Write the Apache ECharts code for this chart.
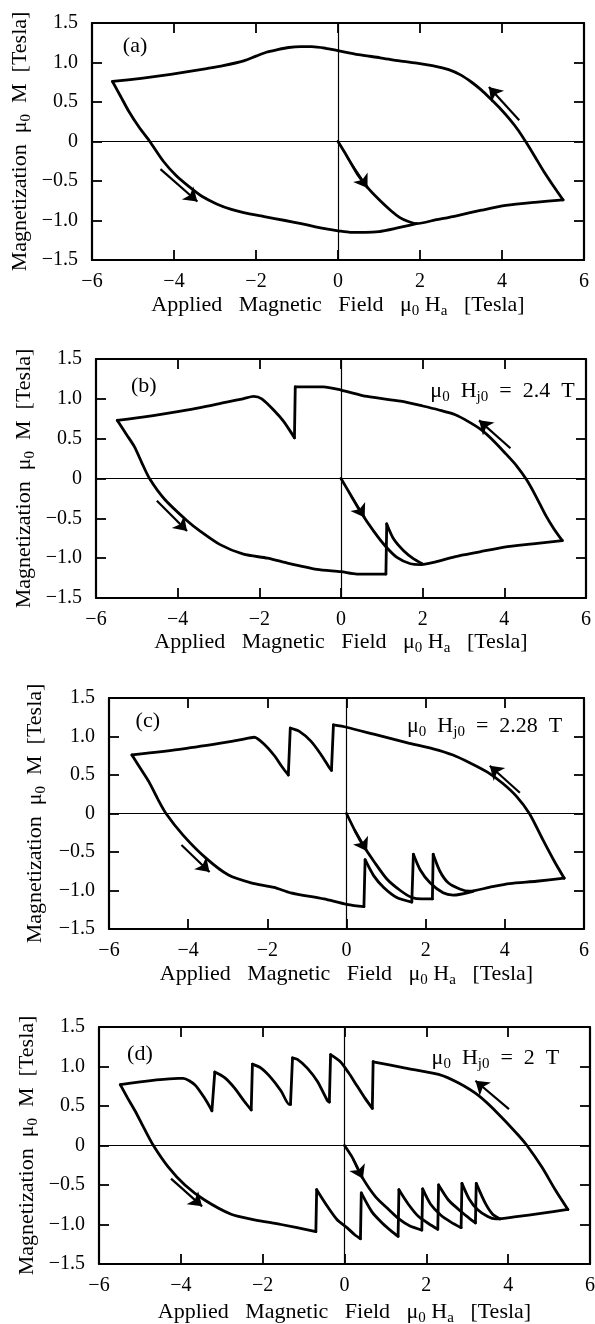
<!DOCTYPE html>
<html><head><meta charset="utf-8">
<script src="https://cdn.jsdelivr.net/npm/echarts/dist/echarts.min.js"></script>
<style>html,body{margin:0;padding:0;background:#fff}#c{width:595px;height:1324px}</style>
</head><body><div id="c"></div>
<script>
// ---------- tick labels ----------
const xTickValues = [-6, -4, -2, 0, 2, 4, 6];
const xTickLabels = ['\u22126', '\u22124', '\u22122', '0', '2', '4', '6'];
const yTickValues = [-1.5, -1.0, -0.5, 0, 0.5, 1.0, 1.5];
const yTickLabels = ['\u22121.5', '\u22121.0', '\u22120.5', '0', '0.5', '1.0', '1.5'];

// ---------- panel (a) ----------
const virginA = [[0,0],[0.2,-0.17],[0.47,-0.41],[0.75,-0.6],[1.03,-0.75],[1.3,-0.88],[1.5,-0.96],[1.7,-1.01],[1.91,-1.04]];
const loopA = [[1.91,-1.04],[2.4,-0.99],[2.89,-0.94],[3.5,-0.87],[4.09,-0.81],[4.8,-0.77],[5.49,-0.74],
 [5.25,-0.56],[5.02,-0.38],[4.8,-0.19],[4.6,-0.02],[4.4,0.14],[4.19,0.28],[3.95,0.42],[3.72,0.54],[3.5,0.65],[3.26,0.75],[3.0,0.84],[2.7,0.91],[2.3,0.96],[1.96,0.99],[1.5,1.02],[1.03,1.06],[0.5,1.1],[0,1.15],[-0.3,1.18],[-0.64,1.2],[-0.9,1.2],[-1.2,1.19],[-1.5,1.16],[-1.75,1.13],[-2.0,1.08],[-2.3,1.02],[-2.8,0.96],[-3.24,0.92],[-3.7,0.88],[-4.08,0.85],[-4.8,0.8],[-5.5,0.76],
 [-5.3,0.57],[-5.1,0.38],[-4.85,0.18],[-4.59,0],[-4.26,-0.25],[-3.95,-0.43],[-3.61,-0.58],[-3.3,-0.7],[-2.96,-0.79],[-2.6,-0.86],[-2.3,-0.9],[-1.8,-0.95],[-1.29,-1.0],[-0.9,-1.04],[-0.55,-1.08],[-0.25,-1.11],[0,-1.13],[0.3,-1.15],[0.66,-1.15],[1.0,-1.14],[1.4,-1.1],[1.91,-1.04]];
const arrowsA = [[-4.33,-0.35,-3.43,-0.76],[0.3,-0.26,0.72,-0.59],[4.42,0.27,3.68,0.69]];

// ---------- panel (b) ----------
const virginB = [[0,0],[0.23,-0.2],[0.47,-0.41],[0.8,-0.66],[1.09,-0.85],[1.37,-0.99],[1.7,-1.07],[1.97,-1.08]];
const loopB = [[1.97,-1.08],[2.3,-1.05],[2.8,-0.98],[3.4,-0.92],[4.0,-0.86],[4.7,-0.82],[5.42,-0.78],
 [5.2,-0.62],[5.0,-0.45],[4.78,-0.23],[4.55,-0.02],[4.3,0.16],[4.0,0.33],[3.72,0.48],[3.44,0.61],[3.1,0.72],[2.8,0.8],[2.4,0.86],[2.0,0.91],[1.46,0.97],[0.64,1.03],[0,1.11],[-0.43,1.15],[-0.8,1.15],[-1.12,1.15],
 [-1.14,0.51],[-1.2,0.56],[-1.41,0.72],[-1.65,0.86],[-1.94,1.0],[-2.14,1.03],[-2.4,1.0],[-2.8,0.96],[-3.45,0.89],[-4.0,0.84],[-4.6,0.79],[-5.0,0.76],[-5.48,0.73],
 [-5.25,0.55],[-5.06,0.4],[-4.88,0.2],[-4.69,0],[-4.32,-0.26],[-3.77,-0.53],[-3.45,-0.66],[-2.96,-0.83],[-2.39,-0.95],[-1.8,-1.0],[-1.41,-1.05],[-0.59,-1.14],[0,-1.17],[0.39,-1.2],[1.1,-1.2],
 [1.12,-0.57],[1.29,-0.76],[1.54,-0.91],[1.78,-1.01],[1.99,-1.07]];
const arrowsB = [[-4.51,-0.28,-3.77,-0.66],[0.25,-0.22,0.58,-0.49],[4.15,0.38,3.38,0.73]];

// ---------- panel (c) ----------
const virginC = [[0,0],[0.23,-0.24],[0.44,-0.43],[0.69,-0.62],[1.02,-0.85],[1.36,-1.0],[1.65,-1.09],[1.9,-1.11],[2.17,-1.11],
 [2.19,-0.53],[2.36,-0.75],[2.57,-0.9],[2.86,-0.98],[3.11,-1.01]];
const loopC = [[3.11,-1.01],[3.6,-0.96],[4.12,-0.91],[4.8,-0.88],[5.5,-0.84],
 [5.25,-0.62],[4.95,-0.33],[4.62,0],[4.3,0.22],[3.95,0.39],[3.55,0.54],[3.11,0.66],[2.69,0.76],[2.19,0.84],[1.52,0.92],[0.69,1.03],[0,1.12],[-0.33,1.15],
 [-0.38,0.56],[-0.44,0.6],[-0.65,0.77],[-0.9,0.94],[-1.2,1.07],[-1.42,1.11],
 [-1.47,0.5],[-1.62,0.6],[-1.82,0.75],[-2.08,0.9],[-2.33,0.99],[-2.66,0.96],[-2.98,0.93],[-4.13,0.84],[-5.42,0.76],
 [-5.2,0.58],[-4.99,0.41],[-4.78,0.2],[-4.56,0],[-4.13,-0.28],[-3.55,-0.58],[-2.98,-0.8],[-2.41,-0.9],[-1.83,-0.96],[-1.41,-1.03],[-0.57,-1.11],[0,-1.18],[0.44,-1.21],
 [0.47,-0.6],[0.69,-0.81],[0.94,-0.96],[1.27,-1.09],[1.65,-1.15],
 [1.69,-0.53],[1.86,-0.73],[2.11,-0.9],[2.44,-1.03],[2.69,-1.06],[3.2,-1.01]];
const arrowsC = [[-4.17,-0.41,-3.46,-0.76],[0.2,-0.21,0.52,-0.49],[4.38,0.27,3.62,0.62]];

// ---------- panel (d) ----------
const virginD = [[0,0],[0.19,-0.15],[0.43,-0.4],[0.76,-0.65],[1.08,-0.81],[1.33,-0.93],[1.6,-1.02],[1.89,-1.07],
 [1.91,-0.55],[2.1,-0.74],[2.35,-0.88],[2.6,-0.97],[2.85,-1.04],
 [2.87,-0.48],[3.05,-0.68],[3.25,-0.81],[3.5,-0.9],[3.7,-0.93]];
const loopD = [[3.7,-0.93],[4.2,-0.9],[4.8,-0.86],[5.46,-0.81],
 [5.15,-0.56],[4.82,-0.27],[4.46,0],[4.25,0.13],[3.76,0.4],[3.28,0.63],[2.79,0.79],[2.3,0.9],[1.49,0.98],[0.7,1.06],
 [0.68,0.47],[0.5,0.6],[0.3,0.76],[0.1,0.92],[-0.1,1.06],[-0.34,1.15],
 [-0.37,0.55],[-0.42,0.57],[-0.66,0.81],[-0.91,0.98],[-1.15,1.09],[-1.27,1.11],
 [-1.32,0.52],[-1.35,0.52],[-1.55,0.69],[-1.8,0.86],[-2.04,0.98],[-2.25,1.03],
 [-2.28,0.45],[-2.45,0.56],[-2.69,0.73],[-2.93,0.86],[-3.17,0.93],
 [-3.24,0.44],[-3.42,0.6],[-3.66,0.77],[-3.94,0.85],[-4.06,0.85],[-5.48,0.77],
 [-5.3,0.6],[-5.12,0.44],[-4.9,0.22],[-4.67,0],[-4.31,-0.27],[-3.9,-0.5],[-3.42,-0.69],[-2.77,-0.87],[-2.2,-0.94],[-1.55,-1.0],[-0.7,-1.09],
 [-0.68,-0.56],[-0.42,-0.77],[-0.18,-0.94],[0.06,-1.04],[0.25,-1.13],[0.39,-1.18],
 [0.41,-0.6],[0.67,-0.84],[0.92,-0.98],[1.16,-1.09],[1.31,-1.15],
 [1.33,-0.56],[1.57,-0.75],[1.81,-0.9],[2.06,-0.99],[2.28,-1.06],
 [2.3,-0.5],[2.54,-0.69],[2.79,-0.81],[3.0,-0.9],[3.2,-0.98],
 [3.22,-0.48],[3.44,-0.73],[3.62,-0.87],[3.8,-0.93]];
const arrowsD = [[-4.24,-0.42,-3.48,-0.77],[0.2,-0.16,0.45,-0.42],[4.02,0.46,3.2,0.82]];

// ---------- annotations ----------
const panelTags = ['(a)', '(b)', '(c)', '(d)'];
const hj0Values = [null, '2.4', '2.28', '2'];

// ---------- layout (pixels / styles) ----------
const FONT = "'Liberation Serif','DejaVu Serif','Times New Roman',serif";
const layouts = [
  {left: 92,  top: 23,   width: 492, height: 237, xGap: 31, yGap: 58, tag: [-4.95, 1.2],  hj: null},
  {left: 96,  top: 359,  width: 490, height: 239, xGap: 30, yGap: 58, tag: [-4.83, 1.16], hj: [5.72, 1.1]},
  {left: 109, top: 698,  width: 475, height: 231, xGap: 31, yGap: 60, tag: [-5.02, 1.2],  hj: [5.45, 1.13]},
  {left: 99,  top: 1027, width: 491, height: 237, xGap: 34, yGap: 58, tag: [-5.0, 1.15],  hj: [5.25, 1.11]}
];
const panels = [
  {virgin: virginA, loop: loopA, arrows: arrowsA},
  {virgin: virginB, loop: loopB, arrows: arrowsB},
  {virgin: virginC, loop: loopC, arrows: arrowsC},
  {virgin: virginD, loop: loopD, arrows: arrowsD}
];

// split a traced path into pieces at flux jumps (near-vertical edges) and at field reversals (loop tips),
// so each piece can be drawn smoothed while jumps and tips stay sharp
function isJump(p, q) {
  const dx = q[0] - p[0], dy = q[1] - p[1];
  return Math.abs(dy) > 0.15 && Math.abs(dy) > 5 * Math.abs(dx);
}
function splitPath(pts) {
  const pieces = [];
  let cur = [pts[0]];
  for (let k = 1; k < pts.length; k++) {
    const prev = pts[k - 1], p = pts[k];
    if (isJump(prev, p)) {
      if (cur.length > 1) pieces.push({pts: cur, smooth: true});
      pieces.push({pts: [prev, p], smooth: false});
      cur = [p];
      continue;
    }
    cur.push(p);
    const next = pts[k + 1];
    if (next && !isJump(p, next)) {
      const d1 = p[0] - prev[0], d2 = next[0] - p[0];
      if (d1 * d2 < 0) {
        pieces.push({pts: cur, smooth: true});
        cur = [p];
      }
    }
  }
  if (cur.length > 1) pieces.push({pts: cur, smooth: true});
  return pieces;
}

const richBase = {
  t: {fontFamily: FONT, fontSize: 22, color: '#000', lineHeight: 28},
  s: {fontFamily: FONT, fontSize: 15, color: '#000', lineHeight: 15, verticalAlign: 'bottom'}
};
const xName = '{t|Applied   Magnetic   Field   \u03bc}{s|0}{t| H}{s|a}{t|   [Tesla]}';
const yName = '{t|Magnetization  \u03bc}{s|0}{t|  M  [Tesla]}';

const grids = [], xAxes = [], yAxes = [], series = [];
layouts.forEach((L, i) => {
  grids.push({left: L.left, top: L.top, width: L.width, height: L.height, containLabel: false, outerBoundsMode: 'none', show: false});
  const tickStyle = {show: true, inside: true, length: 10, lineStyle: {color: '#000', width: 1.8}};
  const lineStyle = {show: true, onZero: false, lineStyle: {color: '#000', width: 2.2}};
  xAxes.push({
    type: 'value', gridIndex: i, position: 'bottom', min: -6, max: 6, interval: 2,
    axisLine: lineStyle, axisTick: tickStyle, splitLine: {show: false},
    axisLabel: {show: true, margin: 12, color: '#000', fontFamily: FONT, fontSize: 20,
      formatter: v => xTickLabels[xTickValues.indexOf(v)]},
    name: xName, nameLocation: 'middle', nameGap: L.xGap, nameMoveOverlap: false,
    nameTextStyle: {rich: richBase}
  });
  xAxes.push({
    type: 'value', gridIndex: i, position: 'top', min: -6, max: 6, interval: 2,
    axisLine: lineStyle, axisTick: tickStyle, axisLabel: {show: false}, splitLine: {show: false}
  });
  yAxes.push({
    type: 'value', gridIndex: i, position: 'left', min: -1.5, max: 1.5, interval: 0.5,
    axisLine: lineStyle, axisTick: tickStyle, splitLine: {show: false},
    axisLabel: {show: true, margin: 14, color: '#000', fontFamily: FONT, fontSize: 20,
      formatter: v => yTickLabels[yTickValues.findIndex(t => Math.abs(t - v) < 1e-6)]},
    name: yName, nameLocation: 'middle', nameGap: L.yGap, nameRotate: 90, nameMoveOverlap: false,
    nameTextStyle: {rich: richBase}
  });
  yAxes.push({
    type: 'value', gridIndex: i, position: 'right', min: -1.5, max: 1.5, interval: 0.5,
    axisLine: lineStyle, axisTick: tickStyle, axisLabel: {show: false}, splitLine: {show: false}
  });
  const P = panels[i];
  const common = {xAxisIndex: 2 * i, yAxisIndex: 2 * i, animation: false, silent: true};
  series.push(Object.assign({
    type: 'line', data: [], z: 2,
    markLine: {silent: true, symbol: 'none', label: {show: false}, animation: false,
      lineStyle: {color: '#000', width: 1.2, type: 'solid'},
      data: [{xAxis: 0}, {yAxis: 0}]}
  }, common));
  splitPath(P.virgin.concat(P.loop.slice(1))).forEach(piece => {
    series.push(Object.assign({
      type: 'line', data: piece.pts, showSymbol: false, symbol: 'none',
      smooth: piece.smooth ? 0.25 : false,
      lineStyle: {color: '#000', width: 2.8, cap: 'round', join: 'round'}, z: 3
    }, common));
  });
  series.push(Object.assign({
    type: 'lines', coordinateSystem: 'cartesian2d', z: 4,
    symbol: ['none', 'arrow'], symbolSize: 13,
    itemStyle: {color: '#000'},
    lineStyle: {color: '#000', width: 2.2, opacity: 1},
    data: P.arrows.map(a => ({coords: [[a[0], a[1]], [a[2], a[3]]]}))
  }, common));
  series.push(Object.assign({
    type: 'scatter', symbolSize: 0, z: 5,
    itemStyle: {opacity: 1},
    data: [L.tag],
    label: {show: true, position: 'inside', color: '#000', opacity: 1, textBorderWidth: 0,
      fontFamily: FONT, fontSize: 22, formatter: () => panelTags[i]}
  }, common));
  if (hj0Values[i]) {
    series.push(Object.assign({
      type: 'scatter', symbolSize: 0, z: 5,
      itemStyle: {opacity: 1},
      data: [L.hj],
      label: {show: true, position: 'left', distance: 0, opacity: 1, textBorderWidth: 0, color: '#000',
        formatter: () => '{t|\u03bc}{s|0}{t|  H}{s|j0}{t|  =  ' + hj0Values[i] + '  T}',
        rich: {
          t: {fontFamily: FONT, fontSize: 22, color: '#000', lineHeight: 27},
          s: {fontFamily: FONT, fontSize: 15, color: '#000', lineHeight: 15, verticalAlign: 'bottom'}
        }}
    }, common));
  }
});

const chart = echarts.init(document.getElementById('c'), null, {renderer: 'canvas'});
chart.setOption({
  animation: false, backgroundColor: '#fff',
  grid: grids, xAxis: xAxes, yAxis: yAxes, series: series
});
</script></body></html>
